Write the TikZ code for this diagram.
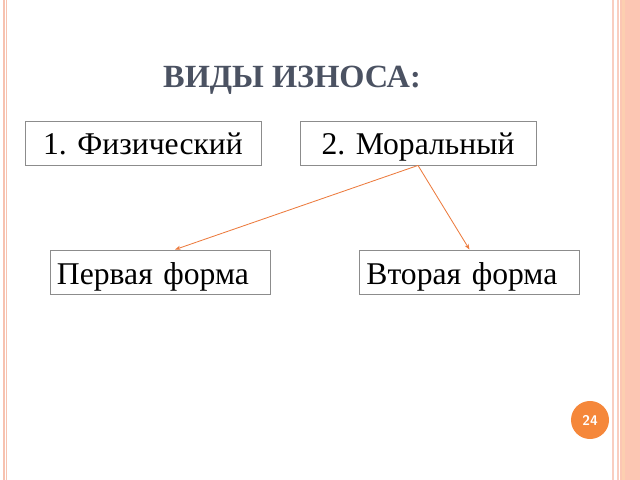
\documentclass[tikz,border=0pt]{standalone}
\usepackage{fontspec}
\setmainfont{Liberation Serif}
\usetikzlibrary{arrows.meta}
\definecolor{framepink}{HTML}{F7C2B0}
\definecolor{bandpink}{HTML}{FCC6B3}
\definecolor{titlegray}{HTML}{4B5262}
\definecolor{arroworange}{HTML}{EC7B3E}
\definecolor{badgeorange}{HTML}{F5873A}
\tikzset{
  kind/.style={draw=gray!90, line width=0.6pt, minimum width=5.9cm, minimum height=1.1cm,
    inner sep=0pt, text height=23.5pt, text depth=7.8pt, font=\fontsize{22.5}{24}\selectfont},
  form/.style={draw=gray!90, line width=0.6pt, text width=5.15cm, align=left, minimum height=1.1cm,
    inner xsep=0.175cm, inner ysep=0pt, text height=24.2pt, text depth=7.1pt,
    font=\fontsize{22.5}{24}\selectfont},
  link/.style={draw=arroworange, line width=0.6pt, -{Stealth[length=4pt,width=3pt]}}
}
\begin{document}
\begin{tikzpicture}[x=0.025cm,y=-0.025cm]
\useasboundingbox (0,0) rectangle (640,480);

% frame of the slide
\fill[framepink] (3.5,0) rectangle (7,480);
\fill[white] (4.6,0) rectangle (5.6,480);
\fill[framepink!80] (611.5,0) rectangle (614,480);
\fill[framepink!80] (616.5,0) rectangle (618.5,480);
\fill[bandpink] (620,0) rectangle (640,480);
\fill[framepink!70!orange!60] (622,0) rectangle (625,480);

\node[text=titlegray, font=\bfseries\fontsize{23}{26}\selectfont] (title) at (292,80) {ВИДЫ ИЗНОСА:};

\node[kind] (phys) at (143,143) {1. Физический};
\node[kind] (moral) at (418,143) {2. Моральный};

\node[form] (first) at (160,272) {Первая форма};
\node[form] (second) at (469.5,272) {Вторая форма};

\draw[link] (moral.south) -- ([xshift=0.375cm]first.north);
\draw[link] (moral.south) -- (second.north);

\node[circle, fill=badgeorange, text=white, minimum size=0.95cm, inner sep=0pt,
  font=\sffamily\bfseries\fontsize{10}{12}\selectfont] (page) at (590,420) {24};
\end{tikzpicture}
\end{document}
